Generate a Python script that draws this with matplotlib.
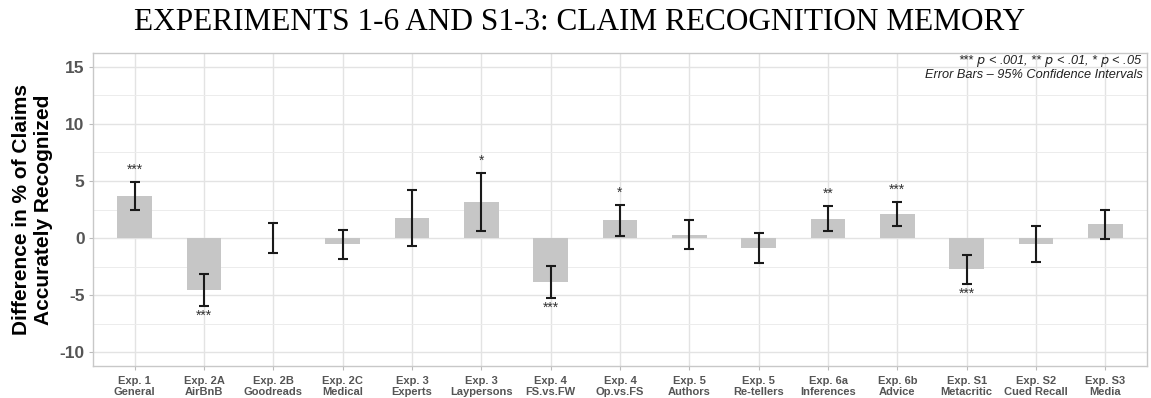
import matplotlib
matplotlib.use("Agg")
import matplotlib.pyplot as plt
import numpy as np

# Experiment labels (two-line tick labels)
experiments = ["Exp. 1\nGeneral", "Exp. 2A\nAirBnB", "Exp. 2B\nGoodreads", "Exp. 2C\nMedical",
               "Exp. 3\nExperts", "Exp. 3\nLaypersons", "Exp. 4\nFS.vs.FW", "Exp. 4\nOp.vs.FS",
               "Exp. 5\nAuthors", "Exp. 5\nRe-tellers", "Exp. 6a\nInferences", "Exp. 6b\nAdvice",
               "Exp. S1\nMetacritic", "Exp. S2\nCued Recall", "Exp. S3\nMedia"]

# Mean difference in % of claims accurately recognized
diff = [3.7, -4.55, 0.0, -0.55, 1.75, 3.2, -3.83, 1.55, 0.26, -0.85, 1.64, 2.1, -2.69, -0.56, 1.2]
# 95% confidence interval bounds
ci_low = [2.49, -5.96, -1.35, -1.84, -0.67, 0.64, -5.26, 0.18, -0.96, -2.16, 0.58, 1.05, -4.04, -2.13, -0.06]
ci_high = [4.91, -3.19, 1.35, 0.73, 4.18, 5.73, -2.46, 2.92, 1.61, 0.44, 2.78, 3.19, -1.46, 1.02, 2.46]
# Significance markers
stars = ["***", "***", "", "", "", "*", "***", "*", "", "", "**", "***", "***", "", ""]

plt.rcParams["font.family"] = ["Liberation Sans", "DejaVu Sans"]
plt.rcParams["axes.unicode_minus"] = False

W, H = 1151, 398
fig = plt.figure(figsize=(W / 100, H / 100), dpi=100)
ax = fig.add_axes([93 / W, 1 - 366 / H, (1147 - 93) / W, (366 - 53) / H])

x = np.arange(len(experiments))
diff_a = np.array(diff)
lo = np.array(ci_low)
hi = np.array(ci_high)

ax.set_axisbelow(True)
ax.bar(x, diff_a, width=0.5, color="#c6c6c6", zorder=2)
ax.errorbar(x, diff_a, yerr=[diff_a - lo, hi - diff_a], fmt="none", ecolor="#1a1a1a",
            elinewidth=1.5, capsize=3.5, capthick=1.5, zorder=3)

for xi, s, d, l, h in zip(x, stars, diff_a, lo, hi):
    if not s:
        continue
    if d >= 0:
        ax.text(xi, h + 0.45, s, ha="center", va="bottom", fontsize=10, color="#333333")
    else:
        ax.text(xi, l - 0.2, s, ha="center", va="top", fontsize=10, color="#333333")

ax.set_xlim(-0.6, len(experiments) - 0.4)
ax.set_ylim(-11.2, 16.2)
ax.set_yticks([-10, -5, 0, 5, 10, 15])
ax.set_yticks(np.arange(-10, 16, 2.5), minor=True)
ax.set_xticks(x)
ax.set_xticklabels(experiments, fontsize=8, fontweight="bold", color="#555555", linespacing=1.15)
for lab in ax.get_yticklabels():
    lab.set_fontsize(12.5)
    lab.set_fontweight("bold")
    lab.set_color("#555555")

ax.grid(which="major", color="#e3e3e3", linewidth=1.0)
ax.grid(which="minor", axis="y", color="#ececec", linewidth=0.7)
ax.tick_params(axis="x", length=3, color="#bbbbbb", pad=4)
ax.tick_params(axis="y", which="major", length=3, color="#bbbbbb", pad=3)
ax.tick_params(axis="y", which="minor", length=0)
for sp in ax.spines.values():
    sp.set_color("#c8c8c8")
    sp.set_linewidth(1.0)

ax.set_ylabel("Difference in % of Claims\nAccurately Recognized", fontsize=15,
              fontweight="bold", color="black", linespacing=1.2, labelpad=5)

fig.text(1143 / W, 1 - 61 / H, "*** $p$ < .001, ** $p$ < .01, * $p$ < .05",
         ha="right", va="center", fontsize=9.2, style="italic", color="#222222")
fig.text(1143 / W, 1 - 75 / H, "Error Bars \u2013 95% Confidence Intervals",
         ha="right", va="center", fontsize=9.2, style="italic", color="#222222")

fig.text(580 / W, 1 - 23 / H, "EXPERIMENTS 1-6 AND S1-3: CLAIM RECOGNITION MEMORY",
         ha="center", va="center", fontsize=22.5, family="Liberation Serif", color="black")

fig.savefig("out.png", dpi=100)
